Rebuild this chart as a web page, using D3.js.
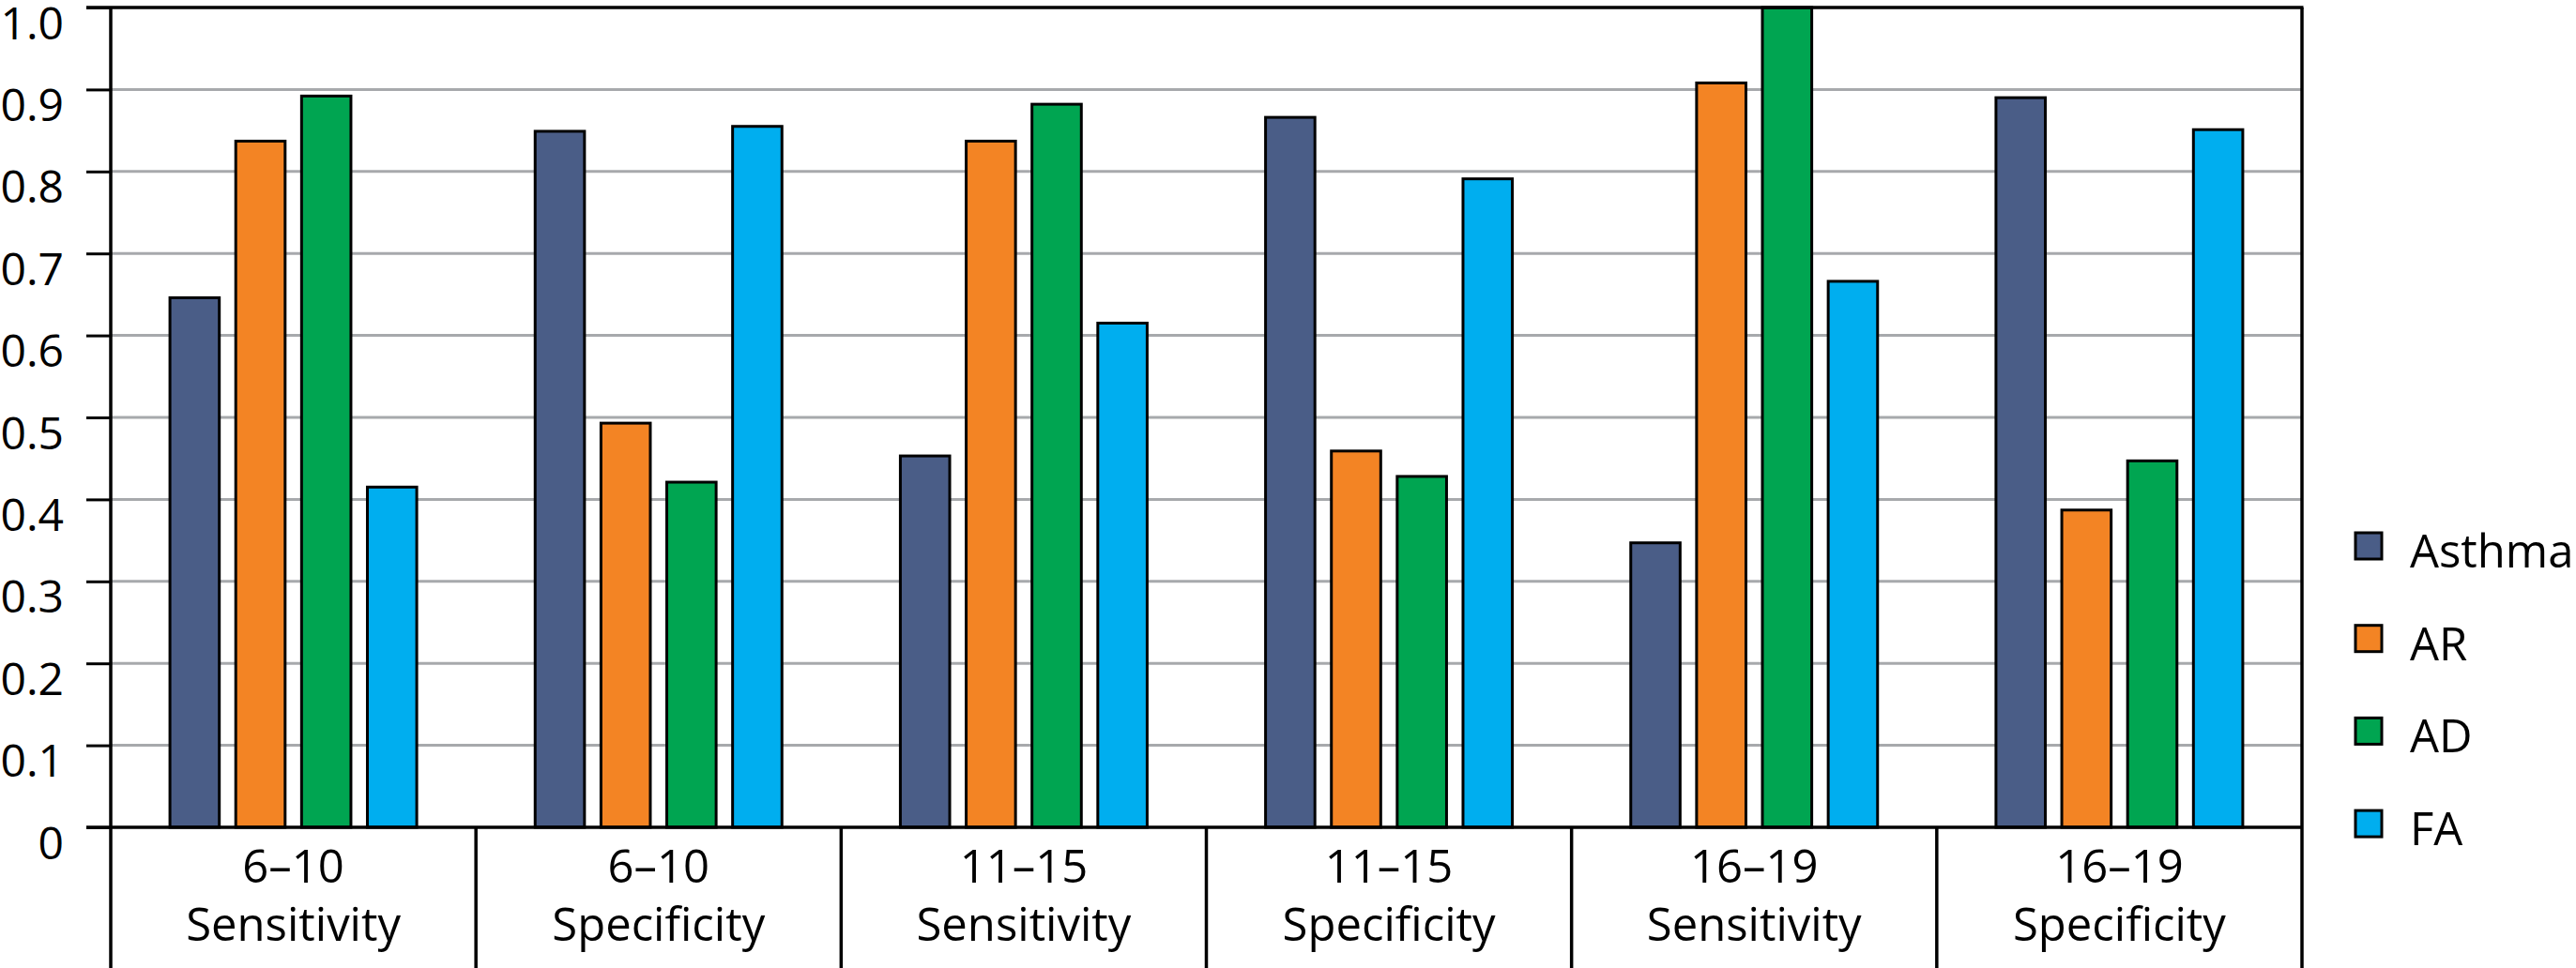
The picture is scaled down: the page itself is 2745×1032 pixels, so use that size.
<!DOCTYPE html>
<html>
<head>
<meta charset="utf-8">
<script src="https://cdn.jsdelivr.net/npm/d3@7"></script>
<style>
  body { margin: 0; background: #fff; }
  text { font-family: "Open Sans", "Noto Sans", sans-serif; fill: #000; }
</style>
</head>
<body>
<div class="chart"></div>
<script>
// age groups and measure for each category (two-line labels)
const ageGroups = ['6–10', '6–10', '11–15', '11–15', '16–19', '16–19'];
const measures = ['Sensitivity', 'Specificity', 'Sensitivity', 'Specificity', 'Sensitivity', 'Specificity'];

// series values
const seriesNames = ['Asthma', 'AR', 'AD', 'FA'];
const asthma = [0.646, 0.849, 0.453, 0.866, 0.347, 0.890];
const ar = [0.837, 0.493, 0.837, 0.459, 0.908, 0.387];
const ad = [0.892, 0.421, 0.882, 0.428, 1.0, 0.447];
const fa = [0.415, 0.855, 0.615, 0.791, 0.666, 0.851];
const seriesColors = ['#4a5d87', '#f38424', '#00a551', '#00aeef'];

const yTicks = [0, 0.1, 0.2, 0.3, 0.4, 0.5, 0.6, 0.7, 0.8, 0.9, 1.0];
const yTickLabels = ['0', '0.1', '0.2', '0.3', '0.4', '0.5', '0.6', '0.7', '0.8', '0.9', '1.0'];

const W = 2745, H = 1032;
const plotLeft = 118, plotRight = 2453, plotTop = 8, zeroY = 882;

const categories = ageGroups.map((a, i) => i);
const values = [asthma, ar, ad, fa];

// build rows for drawing
const rows = [];
categories.forEach(c => {
    seriesNames.forEach((s, j) => rows.push({ cat: c, series: s, value: values[j][c], color: seriesColors[j] }));
});

const x0 = d3.scaleBand().domain(categories).range([plotLeft, plotRight]).padding(0);
const groupInner = 263;
const x1 = d3.scaleBand().domain(seriesNames).range([0, groupInner]).paddingInner(0.25);
const innerOffset = (x0.step() - groupInner) / 2;
const y = d3.scaleLinear().domain([0, 1]).range([zeroY, plotTop]);

const svg = d3.select('.chart').append('svg')
    .attr('width', W).attr('height', H)
    .style('display', 'block');

svg.append('rect').attr('width', W).attr('height', H).attr('fill', '#fff');

// gridlines
svg.append('g')
    .selectAll('line')
    .data(yTicks.filter(d => d > 0 && d < 1))
    .enter().append('line')
    .attr('x1', plotLeft).attr('x2', plotRight)
    .attr('y1', d => y(d)).attr('y2', d => y(d))
    .attr('stroke', '#a7a9ac').attr('stroke-width', 3);

// bars
svg.append('g')
    .selectAll('rect')
    .data(rows)
    .enter().append('rect')
    .attr('x', d => x0(d.cat) + innerOffset + x1(d.series))
    .attr('y', d => y(d.value))
    .attr('width', x1.bandwidth())
    .attr('height', d => y(0) - y(d.value))
    .attr('fill', d => d.color)
    .attr('stroke', '#000')
    .attr('stroke-width', 3);

// y axis with outward ticks
const yAxis = d3.axisLeft(y)
    .tickValues(yTicks)
    .tickSize(26)
    .tickFormat((d, i) => yTickLabels[i]);

const yAxisDraw = svg.append('g')
    .attr('transform', `translate(${plotLeft},0)`)
    .call(yAxis);
yAxisDraw.select('.domain').remove();
yAxisDraw.selectAll('line').attr('stroke', '#000').attr('stroke-width', 3);
// labels sit a little below their tick, like the original
yAxisDraw.selectAll('text')
    .attr('x', -50)
    .attr('dy', null)
    .attr('y', 33)
    .attr('fill', '#000')
    .style('font-size', '48px')
    .style('font-family', '"Open Sans", sans-serif');

// frame: top line, zero line, left axis, right border
svg.append('line').attr('x1', plotLeft - 26).attr('x2', plotRight + 1.5).attr('y1', plotTop).attr('y2', plotTop)
    .attr('stroke', '#000').attr('stroke-width', 3.5);
svg.append('line').attr('x1', plotLeft - 26).attr('x2', plotRight).attr('y1', zeroY).attr('y2', zeroY)
    .attr('stroke', '#000').attr('stroke-width', 3.5);
svg.append('line').attr('x1', plotLeft).attr('x2', plotLeft).attr('y1', plotTop).attr('y2', H)
    .attr('stroke', '#000').attr('stroke-width', 3.5);
svg.append('line').attr('x1', plotRight).attr('x2', plotRight).attr('y1', plotTop).attr('y2', H)
    .attr('stroke', '#000').attr('stroke-width', 3.5);

// category dividers below the zero line
svg.append('g')
    .selectAll('line')
    .data(categories.slice(1))
    .enter().append('line')
    .attr('x1', d => x0(d)).attr('x2', d => x0(d))
    .attr('y1', zeroY).attr('y2', H)
    .attr('stroke', '#000').attr('stroke-width', 3.5);

// category labels
const catLabels = svg.append('g')
    .selectAll('text')
    .data(categories)
    .enter().append('text')
    .attr('text-anchor', 'middle')
    .style('font-size', '49px');
catLabels.append('tspan')
    .attr('x', d => x0(d) + x0.bandwidth() / 2)
    .attr('y', 941)
    .text(d => ageGroups[d]);
catLabels.append('tspan')
    .attr('x', d => x0(d) + x0.bandwidth() / 2)
    .attr('y', 1003)
    .text(d => measures[d]);

// legend
const legend = svg.append('g')
    .selectAll('g')
    .data(seriesNames)
    .enter().append('g')
    .attr('transform', (d, i) => `translate(2510, ${583 + i * 98.7})`);
legend.append('rect')
    .attr('x', 0).attr('y', -15)
    .attr('width', 28).attr('height', 28)
    .attr('fill', (d, i) => seriesColors[i])
    .attr('stroke', '#000').attr('stroke-width', 3);
legend.append('text')
    .attr('x', 58).attr('y', 22)
    .style('font-size', '49px')
    .text(d => d);
</script>
</body>
</html>
